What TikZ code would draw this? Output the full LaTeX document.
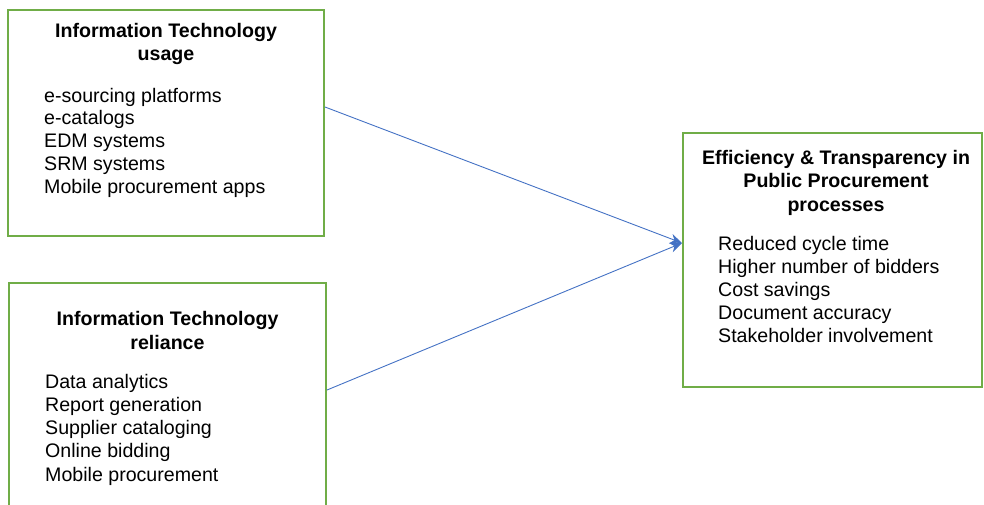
\documentclass[tikz,border=0pt]{standalone}
\usepackage{fontspec}
\setmainfont{Liberation Sans}
\usetikzlibrary{arrows.meta}
\definecolor{boxgreen}{HTML}{70AD47}
\definecolor{arrowblue}{HTML}{4472C4}
\begin{document}
\begin{tikzpicture}[x=1pt,y=-1pt,
  boxstyle/.style={draw=boxgreen, line width=2pt, fill=none, inner sep=0pt},
  titlestyle/.style={font=\fontsize{19.6}{23.5}\selectfont\bfseries, align=center, inner sep=0pt},
  liststyle/.style={font=\fontsize{19.6}{22.7}\selectfont, align=left, inner sep=0pt},
  widelist/.style={font=\fontsize{19.6}{23.1}\selectfont, align=left, inner sep=0pt},
  link/.style={draw=arrowblue, line width=0.9pt, -{Stealth[length=12pt,width=10pt]}}]
\useasboundingbox (0,0) rectangle (984,504);
% boxes
\node[boxstyle, minimum width=316pt, minimum height=226pt] (b1) at (166,123) {};
\node[boxstyle, minimum width=317pt, minimum height=237pt] (b2) at (167.5,401.5) {};
\node[boxstyle, minimum width=299pt, minimum height=254pt] (b3) at (832.5,260) {};
% titles (base anchor = baseline of last line)
\node[titlestyle, anchor=base] (t1) at (166,60.5) {Information Technology\\usage};
\node[titlestyle, anchor=base] (t2) at (167.5,349) {Information Technology\\reliance};
\node[titlestyle, anchor=base] (t3) at (836,211) {Efficiency \& Transparency in\\Public Procurement\\processes};
% lists
\node[liststyle, anchor=base west] (l1) at (44,193) {e-sourcing platforms\\e-catalogs\\EDM systems\\SRM systems\\Mobile procurement apps};
\node[widelist, anchor=base west] (l2) at (45,481) {Data analytics\\Report generation\\Supplier cataloging\\Online bidding\\Mobile procurement};
\node[widelist, anchor=base west] (l3) at (718,342.5) {Reduced cycle time\\Higher number of bidders\\Cost savings\\Document accuracy\\Stakeholder involvement};
% connectors
\coordinate (tip) at ([yshift=17pt]b3.west);
\draw[link] ([yshift=16pt]b1.east) -- (tip);
\draw[link] ([yshift=11.5pt]b2.east) -- (tip);
\end{tikzpicture}
\end{document}
